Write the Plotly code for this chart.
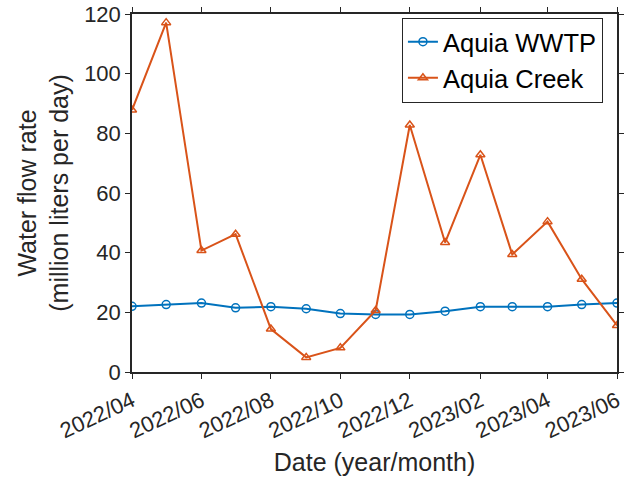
import plotly.graph_objects as go

dates = ["2022-04-01", "2022-05-01", "2022-06-01", "2022-07-01", "2022-08-01",
         "2022-09-01", "2022-10-01", "2022-11-01", "2022-12-01", "2023-01-01",
         "2023-02-01", "2023-03-01", "2023-04-01", "2023-05-01", "2023-06-01"]
wwtp = [22.0, 22.6, 23.1, 21.5, 21.9, 21.2, 19.6, 19.3, 19.3, 20.4,
        21.9, 21.9, 21.9, 22.6, 23.1]
creek = [87.8, 117.1, 40.7, 46.2, 14.4, 4.9, 8.1, 20.6, 82.8, 43.4,
         72.8, 39.4, 50.4, 31.1, 15.6]
tick_vals = ["2022-04-01", "2022-06-01", "2022-08-01", "2022-10-01",
             "2022-12-01", "2023-02-01", "2023-04-01", "2023-06-01"]
tick_text = ["2022/04", "2022/06", "2022/08", "2022/10",
             "2022/12", "2023/02", "2023/04", "2023/06"]

FONT = "Liberation Sans, Arial, Helvetica, sans-serif"
AX = "#262626"

fig = go.Figure()
fig.add_trace(go.Scatter(
    x=dates, y=wwtp, name="Aquia WWTP", mode="lines+markers",
    line=dict(color="#0072BD", width=2),
    marker=dict(symbol="circle-open", size=8, color="#0072BD", line=dict(width=1.5)),
))
fig.add_trace(go.Scatter(
    x=dates, y=creek, name="Aquia Creek", mode="lines+markers",
    line=dict(color="#D95319", width=2),
    marker=dict(symbol="triangle-up-open", size=8, color="#D95319", line=dict(width=1.5)),
))

fig.update_layout(
    width=627, height=484,
    margin=dict(l=132, r=10, t=14, b=112),
    paper_bgcolor="white", plot_bgcolor="white",
    font=dict(family=FONT, size=22, color=AX),
    showlegend=True,
    legend=dict(
        x=0.971, y=0.99, xanchor="right", yanchor="top",
        bgcolor="white", bordercolor="#262626", borderwidth=1,
        font=dict(size=25.5, color="black"),
        tracegroupgap=0, itemwidth=30,
    ),
)
fig.update_xaxes(
    type="date", range=["2022-04-01", "2023-06-01"], automargin=False,
    tickvals=tick_vals, ticktext=tick_text, tickangle=-25,
    ticks="outside", ticklen=5, tickwidth=1.3, tickcolor=AX,
    showline=True, linecolor=AX, linewidth=1.5, mirror="ticks",
    showgrid=False, zeroline=False, ticklabelstandoff=1,
    tickfont=dict(size=22, color=AX),
    title=dict(text="Date (year/month)", font=dict(size=25, color=AX), standoff=11),
)
fig.update_yaxes(
    range=[0, 120], dtick=20, tick0=0, automargin=False,
    ticks="outside", ticklen=5, tickwidth=1.3, tickcolor=AX,
    showline=True, linecolor=AX, linewidth=1.5, mirror="ticks",
    showgrid=False, zeroline=False,
    tickfont=dict(size=22, color=AX),
    title=dict(text="Water flow rate<br>(million liters per day)",
               font=dict(size=25, color=AX), standoff=8),
)

fig.write_html("out.html")
